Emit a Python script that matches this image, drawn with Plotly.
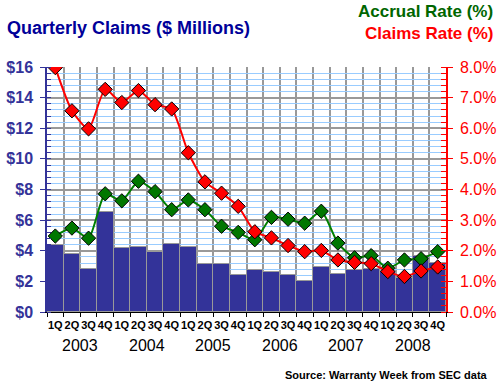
import plotly.graph_objects as go

quarters = ["1Q", "2Q", "3Q", "4Q"] * 6
years = ["2003", "2004", "2005", "2006", "2007", "2008"]
claims_musd = [4.39, 3.80, 2.83, 6.54, 4.20, 4.26, 3.89, 4.41, 4.26, 3.15, 3.15, 2.39,
               2.76, 2.63, 2.43, 2.04, 2.96, 2.50, 2.76, 2.83, 2.70, 2.24, 3.63, 3.22]
claims_rate = [7.98, 6.57, 5.98, 7.27, 6.84, 7.23, 6.77, 6.63, 5.20, 4.25, 3.88, 3.45,
               2.62, 2.42, 2.17, 1.97, 2.01, 1.70, 1.62, 1.58, 1.32, 1.16, 1.34, 1.47]
accrual_rate = [2.48, 2.74, 2.41, 3.86, 3.63, 4.27, 3.93, 3.34, 3.66, 3.34, 2.80, 2.60,
                2.36, 3.09, 3.03, 2.90, 3.29, 2.25, 1.77, 1.84, 1.43, 1.70, 1.74, 1.97]

n = len(quarters)
xs = list(range(n))
FONT = "Liberation Sans, Arial, sans-serif"

fig = go.Figure()
fig.add_trace(go.Bar(
    x=xs, y=claims_musd, marker=dict(color="#333399", line=dict(color="#999999", width=1)),
    yaxis="y", showlegend=False, hoverinfo="skip"))
fig.add_trace(go.Scatter(
    x=xs, y=accrual_rate, yaxis="y2", mode="lines+markers",
    line=dict(color="#008000", width=2, shape="spline", smoothing=0.6),
    marker=dict(symbol="diamond", size=11, color="#007700", line=dict(color="black", width=1)),
    showlegend=False))
fig.add_trace(go.Scatter(
    x=xs, y=claims_rate, yaxis="y2", mode="lines+markers",
    line=dict(color="#FF0000", width=2, shape="spline", smoothing=0.6),
    marker=dict(symbol="diamond", size=11, color="#FF0000", line=dict(color="black", width=1)),
    showlegend=False))

W, H = 500, 386
L, R, T, B = 47, 54, 67, 74
pw, ph = W - L - R, H - T - B

def px_x(xpix):
    return (xpix - L) / pw

def px_y(ypix):
    return (H - B - ypix) / ph

boundaries = [i - 0.5 for i in range(n + 1)]

fig.update_layout(
    width=W, height=H,
    margin=dict(l=L, r=R, t=T, b=B, pad=0, autoexpand=False),
    paper_bgcolor="white", plot_bgcolor="white",
    bargap=0,
    font=dict(family=FONT),
    xaxis=dict(
        range=[-0.5, n - 0.5], tickmode="array", tickvals=xs, ticktext=quarters,
        tickangle=0, automargin=False,
        tickfont=dict(size=11, color="black", weight="bold"),
        ticks="outside", ticklen=3, tickcolor="rgba(0,0,0,0)",
        showgrid=False, zeroline=False,
        showline=True, linecolor="black", linewidth=1,
        minor=dict(tickmode="array", tickvals=boundaries, ticks="outside", ticklen=4,
                   tickcolor="black", showgrid=True, gridcolor="#999999", gridwidth=1.5),
    ),
    yaxis=dict(
        range=[0, 16], dtick=2, tick0=0, tickprefix="$", automargin=False,
        tickfont=dict(size=16, color="#333399", weight="bold"),
        ticks="outside", ticklen=5, tickcolor="#333399",
        showline=True, linecolor="#333399", linewidth=1.5,
        showgrid=True, gridcolor="#999999", gridwidth=1.5, zeroline=False,
        ticklabelstandoff=4,
        minor=dict(dtick=0.4, tick0=0, showgrid=True, gridcolor="#99CCFF", gridwidth=1,
                   ticks="inside", ticklen=4, tickcolor="#333399"),
    ),
    yaxis2=dict(
        range=[0, 8], dtick=1, tick0=0, tickformat=".1f", ticksuffix="%",
        overlaying="y", side="right", automargin=False,
        tickfont=dict(size=16, color="#FF0000"),
        ticks="outside", ticklen=5, tickcolor="#FF0000",
        showline=True, linecolor="#FF0000", linewidth=1.5,
        showgrid=False, zeroline=False, ticklabelstandoff=4,
        minor=dict(dtick=0.2, tick0=0, ticks="inside", ticklen=5, tickcolor="#FF0000"),
    ),
)

annotations = []
for k, yr in enumerate(years):
    annotations.append(dict(
        x=4 * k + 1.5, xref="x", y=px_y(345), yref="paper", text=yr, showarrow=False,
        xanchor="center", yanchor="middle", font=dict(size=16, color="black")))
annotations.append(dict(
    x=px_x(5), xref="paper", y=px_y(28), yref="paper", text="Quarterly Claims ($ Millions)",
    showarrow=False, xanchor="left", yanchor="middle",
    font=dict(size=18, color="#000099", weight="bold")))
annotations.append(dict(
    x=px_x(495), xref="paper", y=px_y(12), yref="paper", text="Accrual Rate (%)",
    showarrow=False, xanchor="right", yanchor="middle",
    font=dict(size=17, color="#006600", weight="bold")))
annotations.append(dict(
    x=px_x(495), xref="paper", y=px_y(34), yref="paper", text="Claims Rate (%)",
    showarrow=False, xanchor="right", yanchor="middle",
    font=dict(size=17, color="#FF0000", weight="bold")))
annotations.append(dict(
    x=px_x(490), xref="paper", y=px_y(375), yref="paper", text="Source: Warranty Week from SEC data",
    showarrow=False, xanchor="right", yanchor="middle",
    font=dict(size=11, color="black", weight="bold")))
fig.update_layout(annotations=annotations)

fig.write_html("out.html", config={"displayModeBar": False},
               post_script="document.body.style.margin='0';document.body.style.padding='0';")
